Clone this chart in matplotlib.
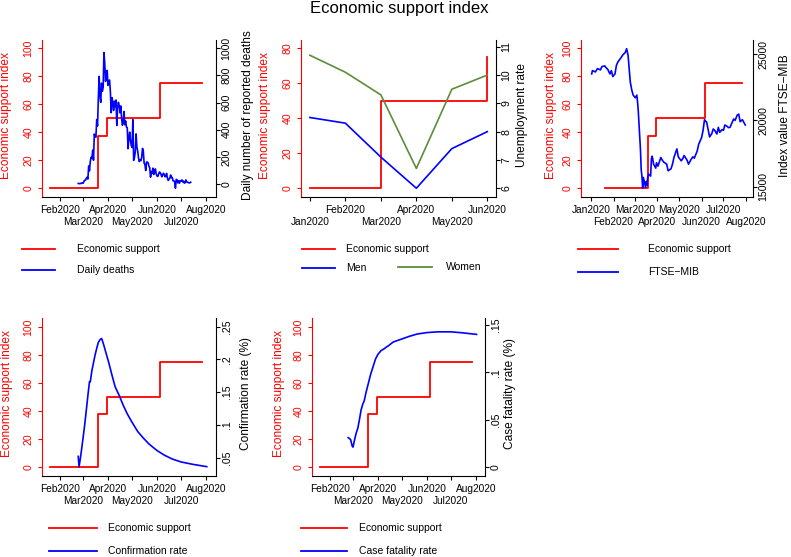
import numpy as np
import matplotlib
matplotlib.use('Agg')
import matplotlib.pyplot as plt
import matplotlib.dates as mdates
from matplotlib.lines import Line2D

plt.rcParams['font.family'] = ['Liberation Sans', 'DejaVu Sans']

W, H = 791, 557
RED = '#ff0000'
BLUE = '#0000ff'
GREEN = '#5e8c3a'

# economic support index: dates where the value changes (step plot)
econ_dates = ['2020-01-20', '2020-03-20', '2020-03-31', '2020-06-05', '2020-07-27']
econ_values = [0, 37.5, 50, 75, 75]

# daily reported deaths from 24 Feb 2020
deaths_start = '2020-02-24'
daily_deaths = [4, 3, 2, 5, 4, 8,
                5, 18, 27, 28, 41, 49, 36, 133, 97, 168, 196, 189, 250, 175, 368, 349,
                345, 475, 427, 627, 793, 651, 601, 743, 683, 712, 969, 889, 756, 812, 837,
                727, 760, 766, 681, 525, 636, 604, 542, 610, 570, 619, 431, 566, 602, 578,
                525, 575, 482, 433, 454, 534, 437, 464, 420, 415, 260, 333, 382, 323, 285,
                269, 474, 174, 195, 236, 369, 274, 243, 194, 165, 179, 172, 195, 262, 242,
                153, 145, 99, 162, 161, 156, 130, 119, 50, 92, 78, 117, 70, 87, 111, 75,
                60, 55, 71, 88, 85, 72, 53, 65, 79, 71, 53, 56, 78, 44, 26, 34, 43, 66,
                47, 49, 24, 23, 18, -31, 34, 30, 8, 24, 6, 23,
                21, 30, 15, 21, 7, 8, 30, 15, 12, 12, 7, 9, 13]

# monthly unemployment
months = ['Jan2020', 'Feb2020', 'Mar2020', 'Apr2020', 'May2020', 'Jun2020']
econ_monthly = [0, 0, 50, 50, 50, 75]
unemp_men = [8.5, 8.3, 7.1, 6.0, 7.4, 8.0]
unemp_women = [10.7, 10.1, 9.3, 6.7, 9.5, 10.0]

# FTSE-MIB index value
ftse_dates = ['2020-01-02', '2020-01-03', '2020-01-07', '2020-01-10', '2020-01-14', '2020-01-16',
              '2020-01-20', '2020-01-22', '2020-01-24', '2020-01-27', '2020-01-29', '2020-01-31',
              '2020-02-03', '2020-02-05', '2020-02-07', '2020-02-11', '2020-02-14', '2020-02-17',
              '2020-02-19', '2020-02-21', '2020-02-24', '2020-02-26', '2020-02-28', '2020-03-02',
              '2020-03-04', '2020-03-05', '2020-03-06', '2020-03-09', '2020-03-10', '2020-03-11',
              '2020-03-12', '2020-03-13', '2020-03-16', '2020-03-17', '2020-03-18', '2020-03-19',
              '2020-03-20', '2020-03-23', '2020-03-24', '2020-03-25', '2020-03-26', '2020-03-27',
              '2020-03-30', '2020-03-31', '2020-04-02', '2020-04-06', '2020-04-08', '2020-04-10',
              '2020-04-14', '2020-04-16', '2020-04-20', '2020-04-22', '2020-04-24', '2020-04-28',
              '2020-04-30', '2020-05-04', '2020-05-06', '2020-05-08', '2020-05-12', '2020-05-14',
              '2020-05-18', '2020-05-20', '2020-05-22', '2020-05-26', '2020-05-28', '2020-06-01',
              '2020-06-03', '2020-06-05', '2020-06-08', '2020-06-10', '2020-06-12', '2020-06-15',
              '2020-06-17', '2020-06-19', '2020-06-22', '2020-06-24', '2020-06-26', '2020-06-29',
              '2020-07-01', '2020-07-03', '2020-07-06', '2020-07-08', '2020-07-10', '2020-07-13',
              '2020-07-15', '2020-07-17', '2020-07-20', '2020-07-22', '2020-07-24', '2020-07-27',
              '2020-07-29', '2020-07-31']
ftse_values = [23500, 23750, 23650, 23900, 23800, 24050,
               24100, 23950, 23850, 23500, 23750, 23300,
               23500, 24150, 24400, 24700, 24950, 25100,
               25400, 24900, 22900, 22300, 21900, 21700,
               21900, 21400, 20700, 17800, 16300, 15800,
               14900, 15700, 14950, 15400, 15100, 15700,
               15950, 15800, 17100, 17300, 17050, 16700,
               16400, 16800, 16550, 17200, 17000, 16850,
               16700, 16200, 16350, 16700, 17200, 17850,
               17250, 16950, 17100, 17350, 17000, 16700,
               17100, 17250, 17150, 17700, 18200, 18700,
               19250, 20050, 19850, 19300, 18750, 19000,
               19350, 19250, 18970, 19470, 19100, 19300,
               19250, 19650, 19550, 19450, 19470, 19850,
               20100, 20000, 20400, 20470, 19900, 20050,
               19850, 19650]

# confirmation rate (%)
conf_dates = ['2020-02-24', '2020-02-25', '2020-02-27', '2020-03-01', '2020-03-03', '2020-03-05',
              '2020-03-07', '2020-03-09', '2020-03-10', '2020-03-12', '2020-03-14', '2020-03-16',
              '2020-03-18', '2020-03-20', '2020-03-22', '2020-03-24', '2020-03-25', '2020-03-27',
              '2020-03-30', '2020-04-02', '2020-04-06', '2020-04-10', '2020-04-15', '2020-04-20',
              '2020-04-25', '2020-05-01', '2020-05-08', '2020-05-15', '2020-05-22', '2020-06-01',
              '2020-06-10', '2020-06-20', '2020-07-01', '2020-07-15', '2020-08-02']
conf_values = [0.052, 0.036, 0.052, 0.080, 0.100, 0.122,
               0.145, 0.166, 0.166, 0.183, 0.195, 0.207,
               0.217, 0.226, 0.230, 0.232, 0.229, 0.221,
               0.208, 0.195, 0.176, 0.158, 0.145, 0.130,
               0.117, 0.104, 0.090, 0.080, 0.071, 0.061,
               0.054, 0.048, 0.0435, 0.040, 0.0363]

# case fatality rate (%)
cfr_dates = ['2020-02-24', '2020-02-27', '2020-02-29', '2020-03-01', '2020-03-03', '2020-03-05',
             '2020-03-07', '2020-03-09', '2020-03-11', '2020-03-13', '2020-03-15', '2020-03-17',
             '2020-03-20', '2020-03-23', '2020-03-26', '2020-03-29', '2020-04-01', '2020-04-05',
             '2020-04-09', '2020-04-12', '2020-04-14', '2020-04-20', '2020-04-30', '2020-05-10',
             '2020-05-20', '2020-06-01', '2020-06-15', '2020-07-01', '2020-07-15', '2020-08-02']
cfr_values = [0.031, 0.029, 0.022, 0.021, 0.029, 0.036,
              0.041, 0.050, 0.060, 0.066, 0.070, 0.078,
              0.088, 0.098, 0.106, 0.114, 0.119, 0.123,
              0.125, 0.127, 0.128, 0.132, 0.135, 0.138,
              0.1405, 0.142, 0.1428, 0.1428, 0.1418, 0.1401]

month_names = ['Jan2020', 'Feb2020', 'Mar2020', 'Apr2020', 'May2020', 'Jun2020', 'Jul2020', 'Aug2020']

day0 = mdates.date2num(np.datetime64('2020-01-01'))


def d(dates):
    return mdates.date2num(np.array(dates, dtype='datetime64[D]'))


def box(left, right, top, bottom):
    return [left / W, 1 - bottom / H, (right - left) / W, (bottom - top) / H]


def style(ax, ax2):
    for s in ['top', 'right']:
        ax.spines[s].set_visible(False)
    for s in ['top', 'left', 'bottom']:
        ax2.spines[s].set_visible(False)
    ax.spines['left'].set_color(RED)
    for sp in [ax.spines['left'], ax.spines['bottom'], ax2.spines['right']]:
        sp.set_linewidth(0.8)
    ax.tick_params(axis='y', colors=RED, length=3, width=0.8, labelsize=7.6, pad=3)
    ax.tick_params(axis='x', which='major', length=3, width=0.8, labelsize=7.3, pad=3)
    ax.tick_params(axis='x', which='minor', length=3, width=0.8, labelsize=7.3, pad=11.4)
    ax2.tick_params(axis='y', length=3, width=0.8, labelsize=7.6, pad=1)
    plt.setp(ax.get_yticklabels(), rotation=90, va='center', ha='right')
    plt.setp(ax2.get_yticklabels(), rotation=90, va='center', ha='left')


def two_rows(ax, pos, names, top_first):
    # alternate month labels between two rows: upper row on major ticks, lower row on minor ticks
    up = [i for i in range(len(pos)) if (i % 2 == 0) == top_first]
    lo = [i for i in range(len(pos)) if (i % 2 == 0) != top_first]
    ax.set_xticks([pos[i] for i in up])
    ax.set_xticklabels([names[i] for i in up])
    ax.set_xticks([pos[i] for i in lo], minor=True)
    ax.set_xticklabels([names[i] for i in lo], minor=True)


def month_axis(ax, idx, top_first):
    pos = [mdates.date2num(np.datetime64('2020-%02d-01' % (i + 1))) for i in idx]
    two_rows(ax, pos, [month_names[i] for i in idx], top_first)


def labels(ax, ax2, left_txt, right_txt, xl, xr):
    ax.set_ylabel(left_txt, color=RED, fontsize=8.6, va='center')
    ax.yaxis.set_label_coords(xl, 0.52)
    ax2.set_ylabel(right_txt, color='black', fontsize=8.6, va='center', rotation=90)
    ax2.yaxis.set_label_coords(xr, 0.52)


def legend_row(x0, x1, y, color, text, tx):
    fig.add_artist(Line2D([x0 / W, x1 / W], [1 - y / H, 1 - y / H], color=color, lw=1.3))
    fig.text(tx / W, 1 - y / H, text, ha='left', va='center', fontsize=7.5)


fig = plt.figure(figsize=(W / 100, H / 100), dpi=100)
fig.text(399 / W, 1 - 9 / H, 'Economic support index', ha='center', va='center', fontsize=12)

econ_x = d(econ_dates)

# panel 1: daily deaths
ax = fig.add_axes(box(41.7, 216, 40, 197))
ax2 = ax.twinx()
ax.plot(econ_x, econ_values, color=RED, lw=1.3, drawstyle='steps-post')
deaths_x = d([deaths_start])[0] + np.arange(len(daily_deaths))
ax2.plot(deaths_x, daily_deaths, color=BLUE, lw=1.2)
ax.set_xlim(day0 + 8.5, day0 + 225.5)
ax.set_ylim(-6.2, 105.9)
ax.set_yticks([0, 20, 40, 60, 80, 100])
ax2.set_ylim(-96, 1061)
ax2.set_yticks([0, 200, 400, 600, 800, 1000])
month_axis(ax, range(1, 8), True)
style(ax, ax2)
labels(ax, ax2, 'Economic support index', 'Daily number of reported deaths', -0.205, 1.184)

# panel 2: unemployment
ax = fig.add_axes(box(300.7, 496, 40, 197))
ax2 = ax.twinx()
mx = np.arange(len(months))
ax.plot(mx, econ_monthly, color=RED, lw=1.3, drawstyle='steps-post')
ax2.plot(mx, unemp_men, color=BLUE, lw=1.2)
ax2.plot(mx, unemp_women, color=GREEN, lw=1.2)
ax.set_xlim(-0.26, 5.245)
ax.set_ylim(-5, 84.7)
ax.set_yticks([0, 20, 40, 60, 80])
ax2.set_ylim(5.69, 11.24)
ax2.set_yticks([6, 7, 8, 9, 10, 11])
two_rows(ax, list(mx), months, False)
style(ax, ax2)
labels(ax, ax2, 'Economic support index', 'Unemployment rate', -0.183, 1.133)

# panel 3: FTSE-MIB
ax = fig.add_axes(box(580.7, 752.7, 40, 197))
ax2 = ax.twinx()
ax.plot(econ_x, econ_values, color=RED, lw=1.3, drawstyle='steps-post')
ax2.plot(d(ftse_dates), ftse_values, color=BLUE, lw=1.2)
ax.set_xlim(day0 - 14.1, day0 + 222.2)
ax.set_ylim(-6.2, 105.9)
ax.set_yticks([0, 20, 40, 60, 80, 100])
ax2.set_ylim(14224, 26055)
ax2.set_yticks([15000, 20000, 25000])
month_axis(ax, range(0, 8), True)
style(ax, ax2)
labels(ax, ax2, 'Economic support index', 'Index value FTSE\u2212MIB', -0.173, 1.188)

# panel 4: confirmation rate
ax = fig.add_axes(box(41.7, 216, 318.3, 475.7))
ax2 = ax.twinx()
ax.plot(econ_x, econ_values, color=RED, lw=1.3, drawstyle='steps-post')
ax2.plot(d(conf_dates), conf_values, color=BLUE, lw=1.2)
ax.set_xlim(day0 + 8.5, day0 + 225.5)
ax.set_ylim(-6.46, 106.5)
ax.set_yticks([0, 20, 40, 60, 80, 100])
ax2.set_ylim(0.0225, 0.2628)
ax2.set_yticks([0.05, 0.1, 0.15, 0.2, 0.25])
ax2.set_yticklabels(['.05', '.1', '.15', '.2', '.25'])
month_axis(ax, range(1, 8), True)
style(ax, ax2)
labels(ax, ax2, 'Economic support index', 'Confirmation rate (%)', -0.199, 1.172)

# panel 5: case fatality rate
ax = fig.add_axes(box(311.7, 485, 318.3, 475.7))
ax2 = ax.twinx()
ax.plot(econ_x, econ_values, color=RED, lw=1.3, drawstyle='steps-post')
ax2.plot(d(cfr_dates), cfr_values, color=BLUE, lw=1.2)
ax.set_xlim(day0 + 8.5, day0 + 224.5)
ax.set_ylim(-6.46, 106.5)
ax.set_yticks([0, 20, 40, 60, 80, 100])
ax2.set_ylim(-0.0092, 0.1571)
ax2.set_yticks([0, 0.05, 0.1, 0.15])
ax2.set_yticklabels(['0', '.05', '.1', '.15'])
month_axis(ax, range(1, 8), True)
style(ax, ax2)
labels(ax, ax2, 'Economic support index', 'Case fatality rate (%)', -0.187, 1.147)

# legends
legend_row(22, 55, 249, RED, 'Economic support', 77)
legend_row(22, 55, 270, BLUE, 'Daily deaths', 77)
legend_row(302, 335, 249, RED, 'Economic support', 346)
legend_row(302, 335, 268, BLUE, 'Men', 346)
legend_row(398, 432, 267, GREEN, 'Women', 446)
legend_row(578, 618, 249, RED, 'Economic support', 648)
legend_row(578, 618, 272, BLUE, 'FTSE\u2212MIB', 648)
legend_row(49, 97, 528, RED, 'Economic support', 108)
legend_row(49, 97, 551, BLUE, 'Confirmation rate', 108)
legend_row(301, 347, 528, RED, 'Economic support', 359)
legend_row(301, 347, 551, BLUE, 'Case fatality rate', 359)

fig.savefig('out.png', dpi=100)
